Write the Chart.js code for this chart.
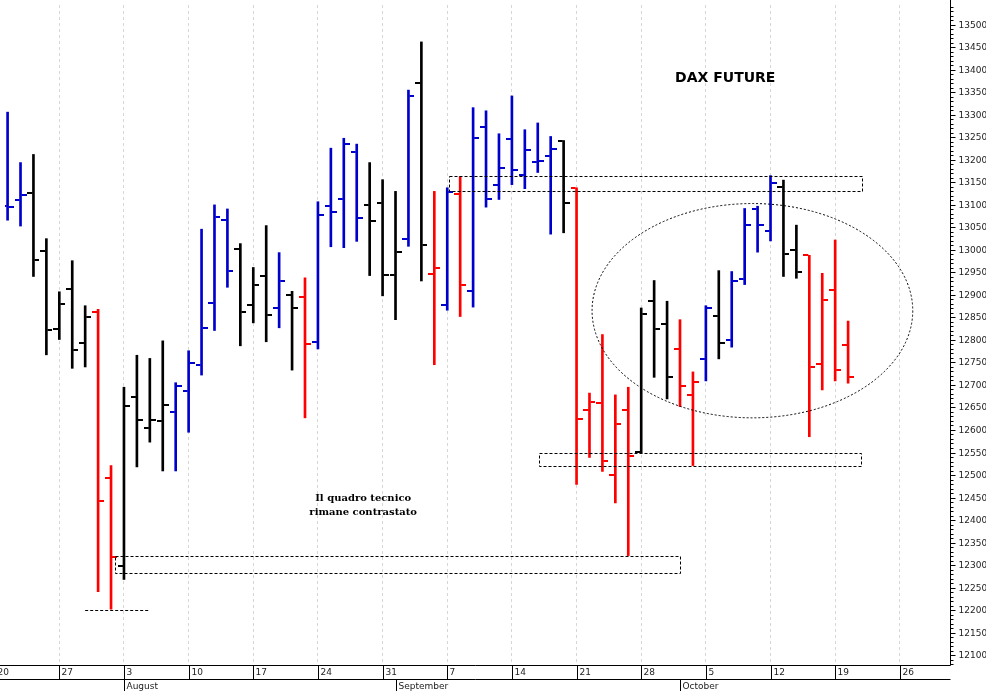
<!DOCTYPE html>
<html>
<head>
<meta charset="utf-8">
<script src="https://cdn.jsdelivr.net/npm/chart.js@4/dist/chart.umd.min.js"></script>
<style>
  body { margin: 0; background: #fff; }
  canvas { display: block; }
</style>
</head>
<body>
<canvas id="dax" width="986" height="691"></canvas>
<script>
// DAX future daily bars, trading day index 0 = Mon 20 July
const opens  = [13060,13097,13110,13126,12998,12825,12914,12793,12863,12494,12299,12674,12605,12621,12641,12686,12744,12883,13067,13002,12877,12941,12870,12899,12895,12796,13098,13114,13218,13100,13105,12944,13025,13371,12946,12877,13125,12909,13273,13145,13246,13166,13195,13208,13241,13138,12644,12661,12500,12644,12552,12886,12836,12779,12678,12758,12853,12801,12935,13090,13042,13139,13000,12988,12747,12911,12788];
const highs  = [13120,13306,13194,13212,13025,12907,12976,12876,12868,12521,12695,12766,12759,12798,12705,12776,13046,13100,13091,13014,12961,13054,12994,12908,12938,13107,13226,13248,13235,13194,13156,13130,13355,13462,13130,13138,13163,13316,13309,13258,13342,13267,13282,13252,13243,13138,12682,12812,12678,12695,12871,12932,12886,12845,12729,12876,12954,12952,13092,13097,13165,13155,13055,12988,12948,13022,12842];
const lows   = [13050,13066,13053,12941,12767,12801,12737,12740,12241,12202,12268,12518,12573,12509,12509,12595,12722,12821,12917,12787,12838,12796,12827,12733,12627,12780,13007,13005,13019,12943,12898,12845,13008,12931,12745,12866,12852,12873,13095,13112,13145,13136,13172,13035,13038,12479,12539,12508,12438,12321,12549,12717,12669,12652,12521,12709,12758,12784,12923,12995,13020,12941,12937,12585,12689,12709,12704];
const closes = [13077,13095,13122,12977,12823,12880,12778,12852,12442,12319,12654,12623,12623,12656,12698,12749,12826,13074,12954,12861,12923,12856,12931,12870,12790,13077,13085,13235,13070,13065,12944,12996,13341,13012,12959,13129,12923,13248,13112,13183,13177,13222,13198,13225,13105,12625,12663,12532,12614,12543,12858,12824,12717,12698,12706,12870,12794,12932,13056,13056,13148,12990,12950,12741,12888,12734,12718];
const barColors = 'bbbkkkkkrrkkkkbbbbbkkkbkrbbbbkkkbkrbrbbbbbbbkrrrrrkkkrrbkbbbbkkrrrr'.split('');

const weekTicks  = [0,5,10,15,20,25,30,35,40,45,50,55,60,65,70];
const weekLabels = ['20','27','3','10','17','24','31','7','14','21','28','5','12','19','26'];
const monthStarts = [10,31,53];
const monthLabels = ['August','September','October'];

// annotations: [fromDay, toDay, topPrice, bottomPrice]
const zones = [[35.1,67.0,13165,13132],[42.1,67.0,12548,12519],[9.3,53.0,12321,12283]];
const supportLine = [7.0,11.9,12200];
const ellipse = [58.6,12865,12.4,13103]; // centre day, centre price, half width in days, top price

const palette = { b: '#0000cc', r: '#ff0000', k: '#000000' };

function tickImage(col, left) {
  const c = document.createElement('canvas');
  c.width = 12; c.height = 2;
  const g = c.getContext('2d');
  g.fillStyle = col;
  g.fillRect(left ? 0 : 7, 0, 5, 2);
  return c;
}
const openImg = {}, closeImg = {};
Object.keys(palette).forEach(k => {
  openImg[k] = tickImage(palette[k], true);
  closeImg[k] = tickImage(palette[k], false);
});

const overlay = {
  id: 'overlay',
  afterDatasetsDraw(chart) {
    const ctx = chart.ctx, xs = chart.scales.x, ys = chart.scales.y;
    ctx.save();
    ctx.strokeStyle = '#000';
    ctx.lineWidth = 1;
    ctx.setLineDash([3, 2]);
    zones.forEach(z => {
      const x1 = xs.getPixelForValue(z[0]), x2 = xs.getPixelForValue(z[1]);
      const y1 = ys.getPixelForValue(z[2]), y2 = ys.getPixelForValue(z[3]);
      ctx.strokeRect(Math.round(x1) + 0.5, Math.round(y1) + 0.5, Math.round(x2 - x1), Math.round(y2 - y1));
    });
    const sy = Math.round(ys.getPixelForValue(supportLine[2])) + 0.5;
    ctx.beginPath();
    ctx.moveTo(xs.getPixelForValue(supportLine[0]), sy);
    ctx.lineTo(xs.getPixelForValue(supportLine[1]), sy);
    ctx.stroke();
    ctx.setLineDash([2, 2]);
    const cx = xs.getPixelForValue(ellipse[0]), cy = ys.getPixelForValue(ellipse[1]);
    const rx = cx - xs.getPixelForValue(ellipse[0] - ellipse[2]);
    const ry = cy - ys.getPixelForValue(ellipse[3]);
    ctx.beginPath();
    ctx.ellipse(cx, cy, rx, ry, 0, 0, Math.PI * 2);
    ctx.stroke();
    ctx.setLineDash([]);
    ctx.fillStyle = '#000';
    ctx.textAlign = 'center';
    ctx.textBaseline = 'middle';
    ctx.font = 'bold 14px "DejaVu Sans"';
    ctx.fillText('DAX FUTURE', xs.getPixelForValue(56.5), ys.getPixelForValue(13381));
    ctx.font = 'bold 10px "DejaVu Serif"';
    ctx.fillText('Il quadro tecnico', xs.getPixelForValue(28.5), ys.getPixelForValue(12448));
    ctx.fillText('rimane contrastato', xs.getPixelForValue(28.5), ys.getPixelForValue(12417));
    ctx.restore();
  },
  afterDraw(chart) {
    const ctx = chart.ctx, xs = chart.scales.x, ys = chart.scales.y, a = chart.chartArea;
    ctx.save();
    ctx.strokeStyle = '#000';
    ctx.fillStyle = '#222';
    ctx.lineWidth = 1;
    const right = Math.round(a.right) + 0.5, bottom = Math.round(a.bottom) + 0.5;
    ctx.beginPath();
    ctx.moveTo(right, 0); ctx.lineTo(right, bottom);
    ctx.moveTo(0, bottom); ctx.lineTo(right, bottom);
    ctx.moveTo(0, bottom + 14); ctx.lineTo(right, bottom + 14);
    ctx.stroke();
    // price axis
    ctx.font = '9px "DejaVu Sans"';
    ctx.textAlign = 'left';
    ctx.textBaseline = 'middle';
    ctx.beginPath();
    for (let v = 12080; v <= 13540; v += 10) {
      const y = Math.round(ys.getPixelForValue(v)) + 0.5;
      const major = v % 50 === 0;
      ctx.moveTo(right, y); ctx.lineTo(right + (major ? 5 : 3), y);
      if (major && v >= 12100 && v <= 13500) ctx.fillText(String(v), right + 8, y);
    }
    ctx.stroke();
    // date axis
    ctx.beginPath();
    weekTicks.forEach((t, k) => {
      const x = Math.round(xs.getPixelForValue(t)) + 0.5;
      ctx.moveTo(x, bottom); ctx.lineTo(x, bottom + 14);
      ctx.fillText(weekLabels[k], x + 2, bottom + 7);
    });
    monthStarts.forEach((t, k) => {
      const x = Math.round(xs.getPixelForValue(t)) + 0.5;
      ctx.moveTo(x, bottom + 14); ctx.lineTo(x, bottom + 26);
      ctx.fillText(monthLabels[k], x + 2, bottom + 21);
    });
    ctx.stroke();
    ctx.restore();
  }
};

new Chart(document.getElementById('dax'), {
  data: {
    datasets: [
      {
        type: 'bar',
        data: highs.map((h, i) => ({ x: i, y: [lows[i], h] })),
        backgroundColor: barColors.map(c => palette[c]),
        barThickness: 2,
        grouped: false
      },
      {
        type: 'scatter',
        data: opens.map((o, i) => ({ x: i, y: o })),
        pointStyle: ctx => openImg[barColors[ctx.dataIndex]]
      },
      {
        type: 'scatter',
        data: closes.map((c, i) => ({ x: i, y: c })),
        pointStyle: ctx => closeImg[barColors[ctx.dataIndex]]
      }
    ]
  },
  options: {
    responsive: false,
    animation: false,
    devicePixelRatio: 1,
    layout: { padding: 0 },
    plugins: { legend: { display: false }, tooltip: { enabled: false } },
    scales: {
      x: {
        type: 'linear', min: 0.8, max: 73.88, offset: false,
        afterBuildTicks: s => { s.ticks = weekTicks.map(v => ({ value: v })); },
        afterFit: s => { s.height = 26; },
        ticks: { display: false },
        grid: { color: '#d6d6d6', tickLength: 0, offset: false },
        border: { display: false, dash: [3, 3] }
      },
      y: {
        position: 'right', min: 12078, max: 13544,
        afterFit: s => { s.width = 36; },
        ticks: { display: false },
        grid: { display: false },
        border: { display: false }
      }
    }
  },
  plugins: [overlay]
});
</script>
</body>
</html>
